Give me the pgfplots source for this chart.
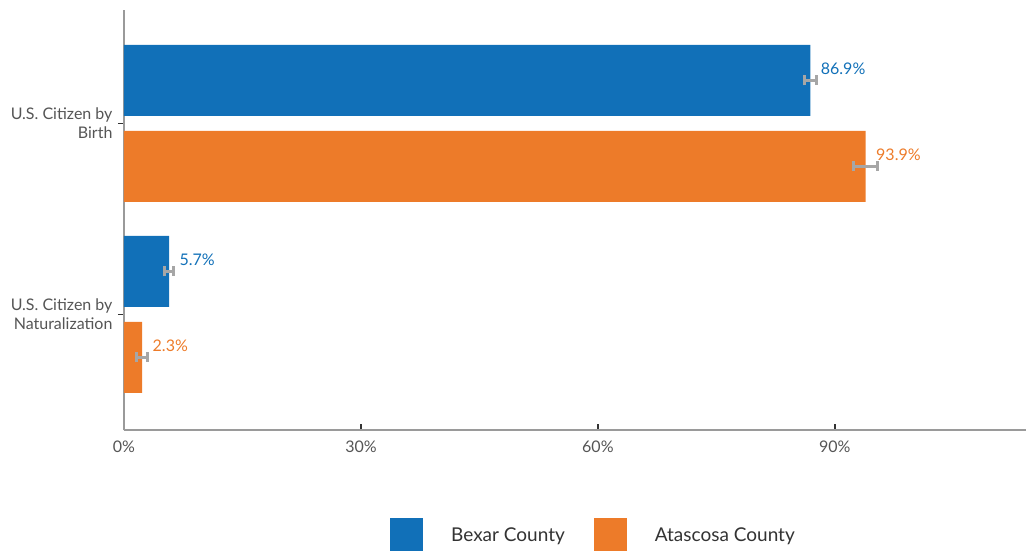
\documentclass[border=0pt]{standalone}
\usepackage{pgfplots}
\pgfplotsset{compat=1.18}
\usepackage{pgfplotstable}
\usepackage{fontspec}
\setmainfont{Lato}
\definecolor{bexar}{HTML}{1170B8}
\definecolor{atas}{HTML}{ED7B29}
\definecolor{errgray}{HTML}{A6A6A6}
\definecolor{axgray}{HTML}{9A9A9A}
\definecolor{txtgray}{HTML}{555555}
\definecolor{legtxt}{HTML}{333333}
\pgfplotstableread{
c v e lbl
1 86.9 0.8 86.9
0 5.7 0.6 5.7
}\bexardata
\pgfplotstableread{
c v e lbl
1 93.9 1.55 93.9
0 2.3 0.7 2.3
}\atasdata
\begin{document}
\begin{tikzpicture}
\begin{axis}[
  at={(124pt,120pt)}, anchor=south west,
  scale only axis, width=902pt, height=420pt,
  xbar, bar width=71pt,
  xmin=0, xmax=114.2,
  ymin=-0.605, ymax=1.594,
  axis x line*=bottom, axis y line*=left,
  axis line style={-, draw=axgray, line width=2pt},
  xmajorticks=true, ymajorticks=true,
  xtick pos=bottom, ytick pos=left,
  xtick={0,30,60,90}, xticklabels={0\%,30\%,60\%,90\%},
  ytick={0,1}, yticklabels={{U.S. Citizen by\\Naturalization},{U.S. Citizen by\\Birth}},
  yticklabel style={align=right, font=\fontsize{16}{19}\selectfont, text=txtgray, xshift=-2pt},
  xticklabel style={font=\fontsize{16}{19}\selectfont, text=txtgray, yshift=-1pt},
  tick align=outside, major tick length=6pt,
  every tick/.append style={black!80, line width=1.8pt},
  every x tick/.append style={yshift=6pt},
  point meta=explicit symbolic,
  nodes near coords={\pgfplotspointmeta\%},
  every node near coord/.append style={font=\fontsize{16}{19}\selectfont, anchor=west, xshift=7pt, yshift=12pt},
  legend style={at={(0.5205,-0.25)}, anchor=center, draw=none, fill=none,
    font=\fontsize{19}{22}\selectfont, text=legtxt, inner sep=0pt,
    /tikz/every odd column/.append style={column sep=26pt},
    /tikz/every even column/.append style={column sep=27pt}},
  legend columns=2,
  legend image code/.code={\fill[#1,draw=none] (0pt,-16.5pt) rectangle (33pt,17.5pt);},
  clip=false,
]
\addplot[fill=bexar, draw=none, bar shift=43pt,
  every node near coord/.append style={text=bexar},
  error bars/.cd, x dir=both, x explicit,
  error bar style={errgray, line width=3pt},
  error mark options={errgray, line width=3pt, mark size=5pt, rotate=90}]
  table[x=v, y=c, x error=e, meta=lbl] {\bexardata};
\addlegendentry{Bexar County}
\addplot[fill=atas, draw=none, bar shift=-43pt,
  every node near coord/.append style={text=atas},
  error bars/.cd, x dir=both, x explicit,
  error bar style={errgray, line width=3pt},
  error mark options={errgray, line width=3pt, mark size=5pt, rotate=90}]
  table[x=v, y=c, x error=e, meta=lbl] {\atasdata};
\addlegendentry{Atascosa County}
\end{axis}
\pgfresetboundingbox
\path (0,0) rectangle (1026pt,550pt);
\end{tikzpicture}
\end{document}
